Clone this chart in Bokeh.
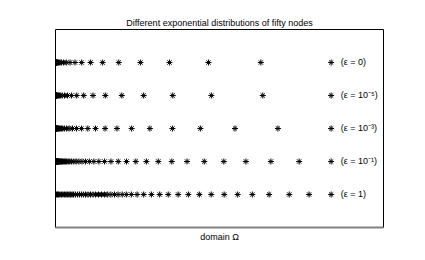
from bokeh.plotting import figure
from bokeh.models import ColumnDataSource, LabelSet, FixedTicker
from bokeh.core.properties import value
from bokeh.embed import file_html
from bokeh.resources import INLINE

title_text = "Different exponential distributions of fifty nodes"
xlabel_text = "domain Ω"
eps_labels = ["(ε = 0)", "(ε = 10⁻⁵)", "(ε = 10⁻³)", "(ε = 10⁻¹)", "(ε = 1)"]
row_level = [5, 4, 3, 2, 1]

nodes_eps_0 = [
    1.0, 0.745, 0.555, 0.4135, 0.3081, 0.2295, 0.171, 0.1274, 0.0949, 0.0707,
    0.0527, 0.0393, 0.0292, 0.0218, 0.0162, 0.0121, 0.009, 0.0067, 0.005, 0.0037,
    0.0028, 0.0021, 0.0015, 0.0011, 0.0009, 0.0006, 0.0005, 0.0004, 0.0003, 0.0002,
    0.0001, 0.0001, 0.0001, 0.0001, 0.0, 0.0, 0.0, 0.0, 0.0, 0.0,
    0.0, 0.0, 0.0, 0.0, 0.0, 0.0, 0.0, 0.0, 0.0, 0.0,
]
nodes_eps_1e5 = [
    1.0, 0.752, 0.5655, 0.4253, 0.3198, 0.2405, 0.1808, 0.136, 0.1023, 0.0769,
    0.0578, 0.0435, 0.0327, 0.0246, 0.0185, 0.0139, 0.0105, 0.0079, 0.0059, 0.0045,
    0.0034, 0.0025, 0.0019, 0.0014, 0.0011, 0.0008, 0.0006, 0.0005, 0.0003, 0.0003,
    0.0002, 0.0001, 0.0001, 0.0001, 0.0001, 0.0, 0.0, 0.0, 0.0, 0.0,
    0.0, 0.0, 0.0, 0.0, 0.0, 0.0, 0.0, 0.0, 0.0, 0.0,
]
nodes_eps_1e3 = [
    1.0, 0.807, 0.6512, 0.5256, 0.4241, 0.3423, 0.2762, 0.2229, 0.1799, 0.1452,
    0.1172, 0.0945, 0.0763, 0.0616, 0.0497, 0.0401, 0.0324, 0.0261, 0.0211, 0.017,
    0.0137, 0.0111, 0.0089, 0.0072, 0.0058, 0.0047, 0.0038, 0.0031, 0.0025, 0.002,
    0.0016, 0.0013, 0.0011, 0.0009, 0.0007, 0.0006, 0.0004, 0.0004, 0.0003, 0.0002,
    0.0002, 0.0002, 0.0001, 0.0001, 0.0001, 0.0001, 0.0001, 0.0, 0.0, 0.0,
]
nodes_eps_1e1 = [
    1.0, 0.884, 0.7815, 0.6908, 0.6107, 0.5398, 0.4772, 0.4219, 0.3729, 0.3297,
    0.2914, 0.2576, 0.2277, 0.2013, 0.178, 0.1573, 0.1391, 0.1229, 0.1087, 0.0961,
    0.0849, 0.0751, 0.0664, 0.0587, 0.0519, 0.0458, 0.0405, 0.0358, 0.0317, 0.028,
    0.0248, 0.0219, 0.0193, 0.0171, 0.0151, 0.0134, 0.0118, 0.0105, 0.0092, 0.0082,
    0.0072, 0.0064, 0.0056, 0.005, 0.0044, 0.0039, 0.0034, 0.003, 0.0027, 0.0,
]
nodes_eps_1 = [
    1.0, 0.920, 0.848, 0.775, 0.714, 0.661, 0.612, 0.565, 0.522, 0.482,
    0.445, 0.409, 0.378, 0.348, 0.320, 0.296, 0.275, 0.257, 0.242, 0.227,
    0.214, 0.201, 0.188, 0.178, 0.167, 0.156, 0.145, 0.136, 0.127, 0.118,
    0.109, 0.101, 0.094, 0.087, 0.080, 0.072, 0.065, 0.060, 0.054, 0.049,
    0.043, 0.038, 0.033, 0.027, 0.022, 0.016, 0.011, 0.007, 0.004, 0.0,
]
node_rows = [nodes_eps_0, nodes_eps_1e5, nodes_eps_1e3, nodes_eps_1e1, nodes_eps_1]

FONT = "Liberation Sans"

p = figure(width=409, height=244, x_range=(0, 1.19), y_range=(0, 6),
           output_backend="svg", toolbar_location=None, title=title_text,
           min_border_left=55, min_border_right=26,
           min_border_top=29, min_border_bottom=15)
p.title.align = "center"
p.title.text_font = FONT
p.title.text_font_size = "9px"
p.title.text_font_style = "normal"
p.title.text_color = "black"
p.title.standoff = 4
p.title.offset = 3

p.grid.visible = False
p.yaxis.visible = False
p.xaxis.ticker = FixedTicker(ticks=[])
p.xaxis.major_tick_line_color = None
p.xaxis.minor_tick_line_color = None
p.xaxis.major_label_standoff = 0
p.xaxis.axis_line_color = "#808080"
p.xaxis.axis_line_width = 2
p.xaxis.axis_label = xlabel_text
p.xaxis.axis_label_text_font = FONT
p.xaxis.axis_label_text_font_size = "9px"
p.xaxis.axis_label_text_font_style = "normal"
p.xaxis.axis_label_text_color = "black"
p.xaxis.axis_label_standoff = 4
p.outline_line_color = "black"
p.outline_line_width = 1
p.background_fill_color = "white"
p.border_fill_color = "white"

for lvl, xs in zip(row_level, node_rows):
    src = ColumnDataSource(dict(x=xs, y=[lvl] * len(xs)))
    p.scatter("x", "y", source=src, marker="asterisk", size=6,
              line_color="black", line_width=1)

lab_src = ColumnDataSource(dict(x=[1.035] * len(eps_labels), y=row_level, t=eps_labels))
p.add_layout(LabelSet(x="x", y="y", text="t", source=lab_src, text_font=value(FONT),
                      text_font_size="9px", text_baseline="middle", text_align="left",
                      y_offset=1, text_color="black"))

open("out.html", "w").write(file_html(p, INLINE))
